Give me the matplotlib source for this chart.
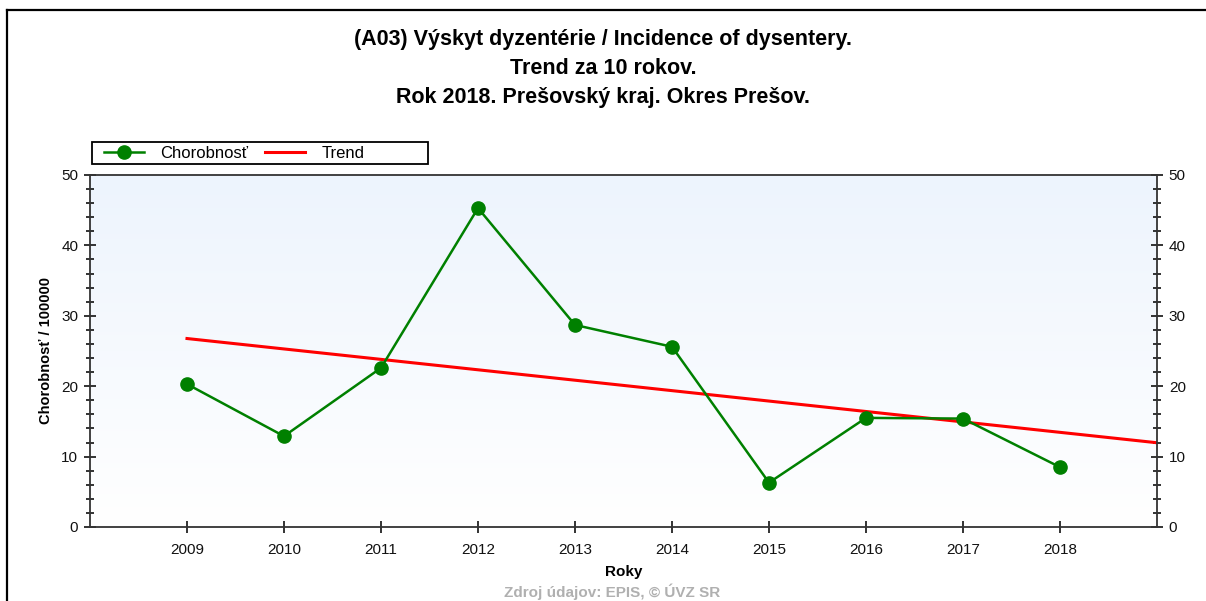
import matplotlib
matplotlib.use("Agg")
import matplotlib.pyplot as plt
import matplotlib.ticker as ticker
from matplotlib.lines import Line2D
from matplotlib.patches import Rectangle
import numpy as np

plt.rcParams.update({
    "font.family": ["Liberation Sans", "DejaVu Sans"],
    "font.size": 10,
})

# data
years = [2009, 2010, 2011, 2012, 2013, 2014, 2015, 2016, 2017, 2018]
incidence = [20.3, 12.9, 22.6, 45.3, 28.7, 25.6, 6.3, 15.5, 15.4, 8.5]

title = ("(A03) Výskyt dyzentérie / Incidence of dysentery.\n"
         "Trend za 10 rokov.\n"
         "Rok 2018. Prešovský kraj. Okres Prešov.")

W, H = 1206, 601
fig = plt.figure(figsize=(W / 100, H / 100), dpi=100)
ax = fig.add_axes([90 / W, 1 - 527 / H, (1157 - 90) / W, (527 - 175) / H])

# light blue -> white gradient background
grad = np.linspace(1, 0, 256).reshape(-1, 1)
cmap = matplotlib.colors.LinearSegmentedColormap.from_list("bg", ["#ffffff", "#edf4fd"])
ax.imshow(grad, cmap=cmap, aspect="auto", extent=[2008, 2019, 0, 50],
          origin="upper", zorder=0, interpolation="bilinear")

# linear trend over the 10 years
k, q = np.polyfit(years, incidence, 1)
tx = np.array([years[0], 2019])
ax.plot(tx, k * tx + q, color="#ff0000", lw=2.2, zorder=2)

ax.plot(years, incidence, "-o", color="#008000", lw=1.8, markersize=9.5, zorder=3)

ax.set_xlim(2008, 2019)
ax.set_ylim(0, 50)
ax.set_xticks(years)
ax.set_yticks(range(0, 51, 10))
ax.yaxis.set_minor_locator(ticker.MultipleLocator(2))
ax.tick_params(axis="both", which="major", direction="inout", length=9, width=1.2,
               labelsize=11, colors="#111111", right=True, labelright=True, pad=4)
ax.tick_params(axis="y", which="minor", direction="inout", length=6, width=1.2,
               right=True, colors="#111111")
ax.tick_params(axis="x", which="major", pad=7)
for s in ax.spines.values():
    s.set_linewidth(1.3)
    s.set_color("#333333")

ax.set_xlabel("Roky", fontweight="bold", fontsize=11, labelpad=6)
ax.set_ylabel("Chorobnosť / 100000", fontweight="bold", fontsize=10.5, labelpad=6)

fig.text(0.5, 1 - 68 / H, title, ha="center", va="center", fontsize=15.5,
         fontweight="bold", linespacing=1.5)

handles = [Line2D([], [], color="#008000", lw=1.8, marker="o", markersize=9.5),
           Line2D([], [], color="#ff0000", lw=2.2)]
fig.legend(handles, ["Chorobnosť", "Trend"], ncol=2,
           loc="center left", bbox_to_anchor=(92 / W, 1 - 153 / H),
           frameon=False, handlelength=2.4, columnspacing=1.0,
           handletextpad=1.0, fontsize=12, borderpad=0.2)
fig.add_artist(Rectangle((92 / W, 1 - 164 / H), 336 / W, 22 / H, fill=False,
                         edgecolor="black", lw=1.3, transform=fig.transFigure))

fig.text(612 / W, 1 - 600 / H, "Zdroj údajov: EPIS, © ÚVZ SR", ha="center",
         va="bottom", fontsize=11, fontweight="bold", color="#b0b0b0")

# frame around the whole picture (only left and top edges are visible)
fig.add_artist(Line2D([7 / W, 7 / W], [0, 1 - 10 / H], color="black", lw=1.6,
                      transform=fig.transFigure))
fig.add_artist(Line2D([7 / W, 1], [1 - 10 / H, 1 - 10 / H], color="black", lw=1.6,
                      transform=fig.transFigure))

fig.savefig("out.png", dpi=100)
